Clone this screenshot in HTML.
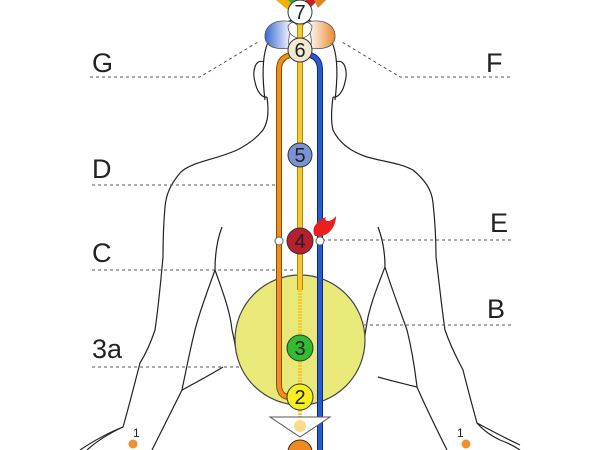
<!DOCTYPE html>
<html><head><style>html,body{margin:0;padding:0;background:#fff}svg{display:block}</style></head>
<body>
<svg width="600" height="450" viewBox="0 0 600 450" xmlns="http://www.w3.org/2000/svg" font-family="Liberation Sans, sans-serif">
<defs>
<linearGradient id="gb" x1="0" x2="1"><stop offset="0" stop-color="#3a6ad0"/><stop offset="1" stop-color="#fff"/></linearGradient>
<linearGradient id="go" x1="1" x2="0"><stop offset="0" stop-color="#e88a30"/><stop offset="1" stop-color="#fff"/></linearGradient>
</defs>
<!-- body outline -->
<g fill="none" stroke="#222" stroke-width="1.2">
<path d="M265,100 C260,60 262,25 300,18 C338,25 340,60 335,100"/>
<path d="M264,62 C255,58 252,72 255,82 C257,92 262,98 267,97"/>
<path d="M336,62 C345,58 348,72 345,82 C343,92 338,98 333,97"/>
<path d="M267,97 C269,112 268,122 263,130 C255,140 245,146 237,150 C215,160 190,162 180,173 C170,185 166,195 165,207 C163,230 163,245 163,257 C160,290 158,310 155,330 C150,345 145,355 140,363 C133,390 128,410 123,427 C110,433 98,440 87,450"/>
<path d="M333,97 C331,112 331,122 333,130 C340,145 355,153 367,157 C385,162 400,163 413,170 C425,180 432,190 433,203 C436,230 436,245 436,257 C440,290 442,310 445,330 C452,350 458,360 463,370 C468,390 472,405 477,423 C485,432 492,436 500,440 C508,443 514,446 520,450"/>
<path d="M123,427 C110,432 95,440 80,450"/>
<path d="M222,227 C217,240 215,255 215,270 C208,290 200,310 195,330 C190,350 186,370 182,390 C172,410 162,430 152,450"/>
<path d="M215,270 C222,290 230,310 232,330 C234,338 235,345 236,350"/>
<path d="M223,367 C210,375 195,383 182,390"/>
<path d="M378,227 C383,240 385,255 385,267 C392,290 400,310 407,330 C412,350 415,370 417,387 C427,410 437,430 447,450"/>
<path d="M385,267 C378,285 372,300 368,317 C366,328 365,335 364,340"/>
<path d="M378,377 C392,381 405,384 417,387"/>
<path d="M477,423 C490,430 505,438 520,445"/>
</g>
<!-- dashed lines -->
<g stroke="#555" stroke-width="1" stroke-dasharray="3,3" fill="none">
<path d="M90,77 H200 L258,42"/>
<path d="M510,77 H400 L342,42"/>
<path d="M92,185 H276"/>
<path d="M92,270 H296"/>
<path d="M92,367 H292"/>
<path d="M322,240 H512"/>
<path d="M322,325 H512"/>
</g>
<!-- labels -->
<g font-size="27" fill="#222">
<text x="92" y="72">G</text>
<text x="486" y="72">F</text>
<text x="92" y="178">D</text>
<text x="490" y="232">E</text>
<text x="92" y="262">C</text>
<text x="487" y="318">B</text>
<text x="92" y="358">3a</text>
</g>
<!-- big circle -->
<circle cx="300" cy="340" r="65" fill="#e9e97a" stroke="#444" stroke-width="1.2"/>
<!-- head lotus -->
<path d="M292,22 C275,18 264,26 265,38 C267,48 278,50 290,48 C286,40 292,30 292,22Z" fill="url(#gb)" stroke="#555" stroke-width="0.8"/>
<path d="M308,22 C325,18 336,26 335,38 C333,48 322,50 310,48 C314,40 308,30 308,22Z" fill="url(#go)" stroke="#555" stroke-width="0.8"/>
<path d="M288,26 C292,20 296,22 300,30 C304,22 308,20 312,26 C312,34 306,38 300,38 C294,38 288,34 288,26Z" fill="#fff" stroke="#555" stroke-width="0.8"/>
<path d="M276,0 L288,10 L295,0Z" fill="#f0b000"/>
<path d="M288,0 L296,8 L300,0Z" fill="#3a3"/>
<path d="M305,0 L310,8 L318,0Z" fill="#c22"/>
<path d="M314,0 L318,8 L326,0Z" fill="#e08020"/>
<!-- channels -->
<path d="M279,385 V70 Q279,58 290,55 L300,52" fill="none" stroke="#8a4a00" stroke-width="6"/>
<path d="M279,385 V70 Q279,58 290,55 L300,52" fill="none" stroke="#f0901a" stroke-width="4"/>
<path d="M279,384 Q279,397 290,397 H300" fill="none" stroke="#8a4a00" stroke-width="6"/>
<path d="M279,384 Q279,397 290,397 H300" fill="none" stroke="#f0901a" stroke-width="4"/>
<line x1="300" y1="12" x2="300" y2="290" stroke="#b08a00" stroke-width="6"/>
<line x1="300" y1="12" x2="300" y2="290" stroke="#f8c830" stroke-width="4"/>
<line x1="300" y1="290" x2="300" y2="430" stroke="#f8c830" stroke-width="4" stroke-dasharray="2,1"/>
<path d="M300,52 L310,55 Q320,58 320,70 V450" fill="none" stroke="#0a2a80" stroke-width="6"/>
<path d="M300,52 L310,55 Q320,58 320,70 V450" fill="none" stroke="#2a5ad0" stroke-width="4"/>
<!-- triangle -->
<path d="M270,417 H330 L300,437Z" fill="#fff" stroke="#555" stroke-width="1"/>
<circle cx="300" cy="426" r="6" fill="#f8dc8a"/>
<!-- chakras -->
<g stroke="#333" stroke-width="1" font-size="20" text-anchor="middle" fill="#222">
<circle cx="300" cy="12" r="12" fill="#fff"/><text x="300" y="19" stroke="none">7</text>
<circle cx="300" cy="50" r="12" fill="#f2ead0"/><text x="300" y="57" stroke="none">6</text>
<circle cx="300" cy="155" r="12" fill="#7b93d6"/><text x="300" y="162" stroke="none">5</text>
<circle cx="300" cy="241" r="13" fill="#b81e2e"/><text x="300" y="248" stroke="none">4</text>
<circle cx="300" cy="348" r="13" fill="#33bb33"/><text x="300" y="355" stroke="none">3</text>
<circle cx="300" cy="397" r="13" fill="#f6f020"/><text x="300" y="404" stroke="none">2</text>
<circle cx="300" cy="452" r="12" fill="#f08a20"/>
</g>
<circle cx="279" cy="241" r="4" fill="#fff" stroke="#666"/>
<circle cx="320" cy="241" r="4" fill="#fff" stroke="#666"/>
<path d="M315,236 C310,228 318,220 326,217 C323,223 332,222 336,216 C336,226 330,234 322,236Z" fill="#e82020"/>
<!-- feet dots -->
<circle cx="133" cy="444" r="4.5" fill="#f09030"/>
<circle cx="466" cy="444" r="4.5" fill="#f09030"/>
<text x="133" y="437" font-size="12" fill="#222">1</text>
<text x="457" y="437" font-size="12" fill="#222">1</text>
</svg>
</body></html>
